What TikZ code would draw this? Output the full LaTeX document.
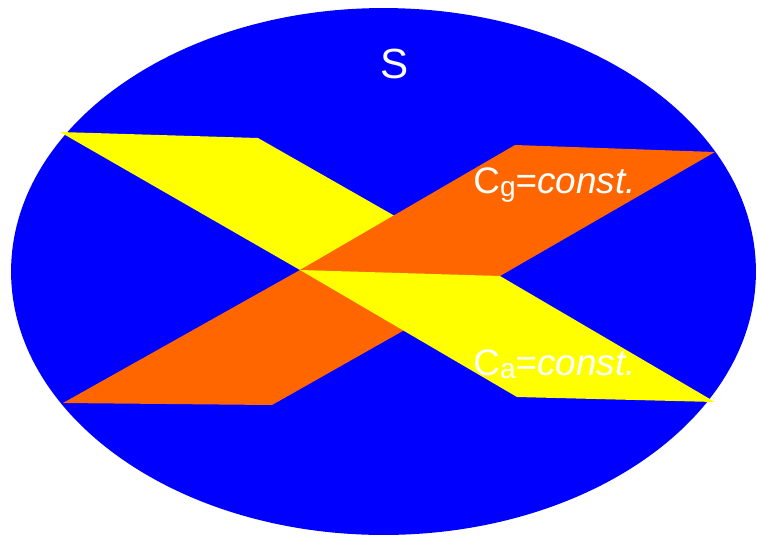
\documentclass[tikz,border=0pt]{standalone}
\usepackage{fontspec}
\setmainfont{Liberation Sans}
\definecolor{setblue}{RGB}{0,0,255}
\definecolor{planeyellow}{RGB}{255,255,0}
\definecolor{planeorange}{RGB}{255,102,0}
\tikzset{
	label text/.style={text=white, inner sep=0pt, anchor=base west, font=\fontsize{21}{24}\selectfont},
}
\newcommand{\lowsub}[1]{\raisebox{-0.2ex}{\fontsize{16}{18}\selectfont #1}}

\begin{document}
\begin{tikzpicture}[x=0.02cm, y=-0.02cm]
		\useasboundingbox (0,0) rectangle (757,538);
		% the set S
		\fill[setblue] (383.5,271.5) ellipse [x radius=7.45cm, y radius=5.27cm];
		\coordinate (m) at (300,270);
		\coordinate (n) at (500,276);
		% back halves of the two planes
		\fill[planeyellow] (60,132) -- (258,138) -- (n) -- (m) -- cycle;
		\fill[planeorange] (63,403) -- (272,405) -- (n) -- (m) -- cycle;
		% front halves
		\fill[planeorange] (m) -- (n) -- (715,152) -- (515,145) -- cycle;
		\fill[planeyellow] (m) -- (n) -- (715,402) -- (517,397) -- cycle;
		\node[text=white, inner sep=0pt, anchor=base, font=\fontsize{24}{28}\selectfont] (s) at (395,78) {S};
		\node[label text] (cg) at (473,193) {C\lowsub{g}=\textit{const.}};
		\node[label text] (ca) at (473,375) {C\lowsub{a}=\textit{const.}};
	\end{tikzpicture}
\end{document}
